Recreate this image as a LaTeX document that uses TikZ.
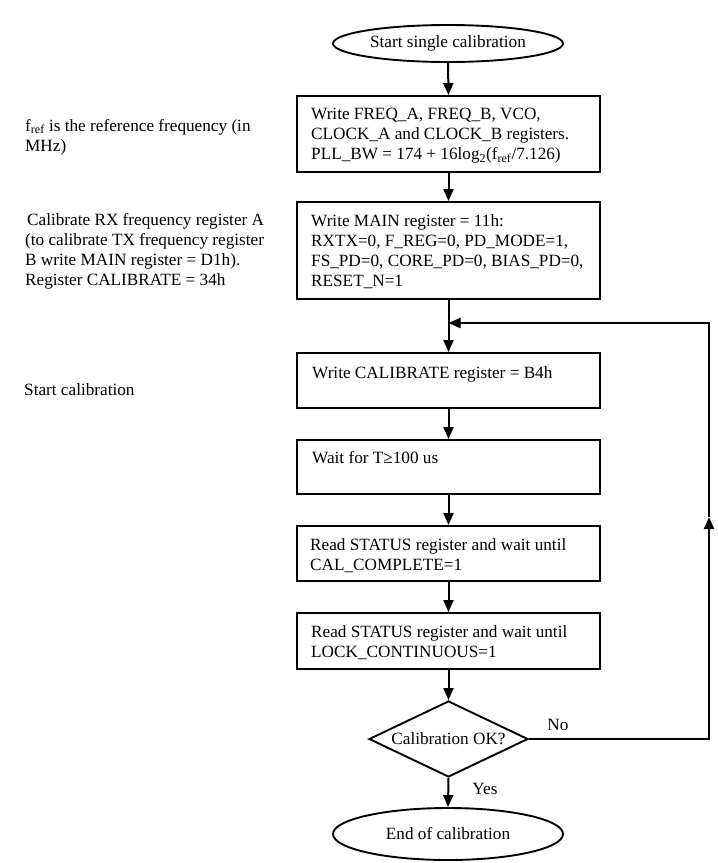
\documentclass[tikz,border=0pt]{standalone}
\usepackage{fontspec}
\setmainfont{Liberation Serif}
\usetikzlibrary{shapes.geometric,arrows.meta,calc}
\begin{document}
\begin{tikzpicture}[x=1pt,y=-1pt,
  every node/.style={font=\fontsize{17.2}{20}\selectfont},
  box/.style={draw,line width=1.9pt,rectangle,minimum width=303,inner sep=0},
  oval/.style={draw,line width=1.9pt,ellipse,minimum width=230,inner sep=0},
  dec/.style={draw,line width=1.9pt,diamond,aspect=2.1,inner sep=0,minimum width=159,minimum height=76},
  txt/.style={align=left,inner sep=0,anchor=north west},
  arr/.style={line width=2pt,-{Triangle[length=12pt,width=10pt]}}
]
\useasboundingbox (0,0) rectangle (718,863);
% left notes
\node[txt] (n1) at (25,119) {f\textsubscript{ref} is the reference frequency (in\\MHz)};
\node[txt] (n2) at (25,213) {\hspace*{2pt}Calibrate RX frequency register A\\(to calibrate TX frequency register\\B write MAIN register = D1h).\\Register CALIBRATE = 34h};
\node[txt] (n3) at (24,383) {Start calibration};
% flow
\node[oval,minimum height=37] (start) at (448,43.5) {Start single calibration};
\node[box,minimum height=76] (b1) at (448.5,134) {};
\node[txt] (t1) at (311,108) {Write FREQ\_A, FREQ\_B, VCO,\\CLOCK\_A and CLOCK\_B registers.\\PLL\_BW = 174 + 16log\textsubscript{2}(f\textsubscript{ref}/7.126)};
\node[box,minimum height=97] (b2) at (448.5,250.5) {};
\node[txt] (t2) at (311,214) {Write MAIN register = 11h:\\RXTX=0, F\_REG=0, PD\_MODE=1,\\FS\_PD=0, CORE\_PD=0, BIAS\_PD=0,\\RESET\_N=1};
\node[box,minimum height=55] (b3) at (448.5,380.5) {};
\node[txt] (t3) at (312,366) {Write CALIBRATE register = B4h};
\node[box,minimum height=54] (b4) at (448.5,467) {};
\node[txt] (t4) at (312,451) {Wait for T≥100 us};
\node[box,minimum height=55] (b5) at (448.5,553.5) {};
\node[txt] (t5) at (310,538) {Read STATUS register and wait until\\CAL\_COMPLETE=1};
\node[box,minimum height=56] (b6) at (448.5,641) {};
\node[txt] (t6) at (311,625) {Read STATUS register and wait until\\LOCK\_CONTINUOUS=1};
\node[dec] (dia) at (448.5,739) {Calibration OK?};
\node[oval,minimum height=52] (end) at (448,834) {End of calibration};
\node (no) at (558,725) {No};
\node (yes) at (485,789) {Yes};
\coordinate (lt) at (709,323);
\coordinate (lm) at (709,517);
\coordinate (jn) at (448.5,323);
% connectors
\draw[arr] (start.south) -- (b1.north);
\draw[arr] (b1.south) -- (b2.north);
\draw[arr] (b2.south) -- (b3.north);
\draw[arr] (b3.south) -- (b4.north);
\draw[arr] (b4.south) -- (b5.north);
\draw[arr] (b5.south) -- (b6.north);
\draw[arr] (b6.south) -- (dia.north);
\draw[arr] (dia.south) -- (end.north);
\draw[arr] (dia.east) -- (dia.east -| lm) -- (lm);
\draw[arr] (lm) -- (lt) -- (jn);
\end{tikzpicture}
\end{document}
